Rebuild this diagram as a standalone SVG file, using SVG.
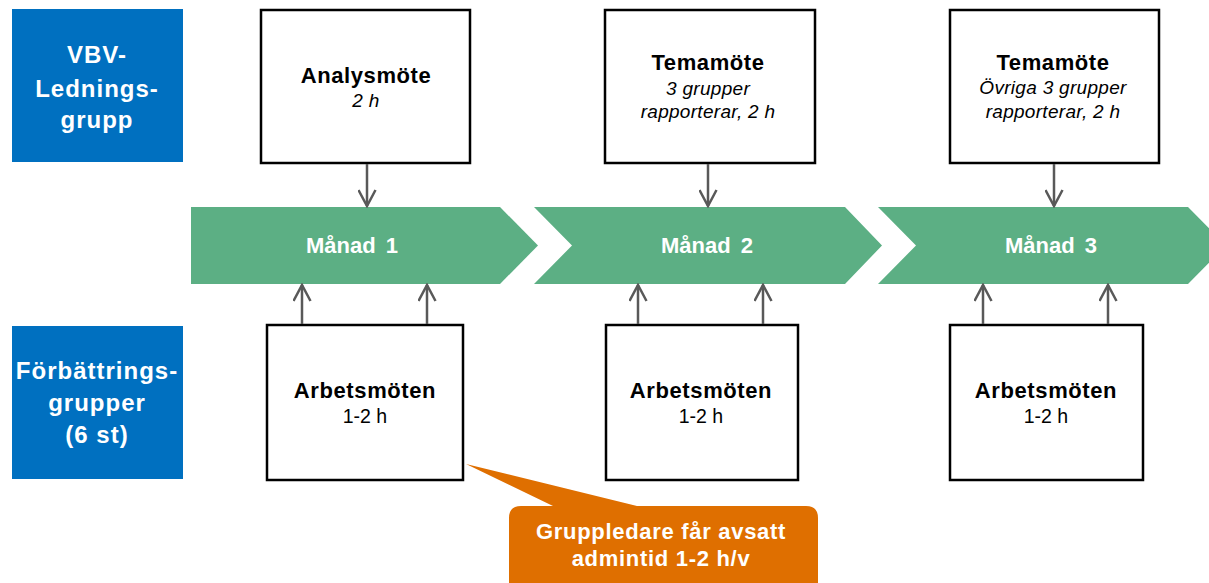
<svg xmlns="http://www.w3.org/2000/svg" width="1209" height="583" viewBox="0 0 1209 583">
<style>
.lbl{fill:#0070C0}
.lt{font-family:"Liberation Sans",Arial,sans-serif;font-weight:bold;font-size:24px;fill:#fff;text-anchor:middle;letter-spacing:1px}
.box{fill:#fff;stroke:#000;stroke-width:2.5}
.t{font-family:"Liberation Sans",Arial,sans-serif;text-anchor:middle;fill:#000}
.b{font-weight:bold;font-size:22px;letter-spacing:0.6px}
.i{font-style:italic;font-size:19px;letter-spacing:0.3px}
.r{font-size:19.5px}
.chev{fill:#5CAF84}
.mt{font-family:"Liberation Sans",Arial,sans-serif;font-weight:bold;font-size:22px;fill:#fff;text-anchor:middle;word-spacing:4px}
.conn{stroke:#595959;stroke-width:2.5;fill:none;marker-end:url(#arr)}
.ct{font-family:"Liberation Sans",Arial,sans-serif;font-weight:bold;font-size:22px;fill:#fff;text-anchor:middle;letter-spacing:0.7px}
</style>
<defs>
<marker id="arr" viewBox="-1 -1 19 19" refX="16" refY="8.5" markerWidth="19" markerHeight="19" markerUnits="userSpaceOnUse" orient="auto">
<path d="M0,0 L16,8.5 L0,17" fill="none" stroke="#595959" stroke-width="2.5"/>
</marker>
</defs>
<rect width="1209" height="583" fill="#fff"/>

<g id="label-vbv">
<rect class="lbl" x="12" y="9" width="171" height="153"/>
<text class="lt" x="97" y="63">VBV-</text>
<text class="lt" x="97" y="97">Lednings-</text>
<text class="lt" x="97" y="128">grupp</text>
</g>
<g id="label-forb">
<rect class="lbl" x="12" y="326" width="171" height="153"/>
<text class="lt" x="97" y="379">Förbättrings-</text>
<text class="lt" x="97" y="411">grupper</text>
<text class="lt" x="97" y="443">(6 st)</text>
</g>

<g id="month1">
<path class="chev" d="M191,207 L500,207 L538,245.5 L500,284 L191,284 Z"/>
<text class="mt" x="352" y="253">Månad 1</text>
</g>
<g id="month2">
<path class="chev" d="M534,207 L845,207 L882,245.5 L845,284 L534,284 L572,245.5 Z"/>
<text class="mt" x="707" y="253">Månad 2</text>
</g>
<g id="month3">
<path class="chev" d="M878,207 L1188,207 L1226,245.5 L1188,284 L878,284 L916,245.5 Z"/>
<text class="mt" x="1051" y="253">Månad 3</text>
</g>

<g id="analysmote">
<rect class="box" x="261" y="10" width="209" height="153"/>
<text class="t b" x="366" y="83">Analysmöte</text>
<text class="t i" x="366" y="107">2 h</text>
</g>
<g id="temamote1">
<rect class="box" x="605" y="10" width="210" height="153"/>
<text class="t b" x="708" y="70">Temamöte</text>
<text class="t i" x="708" y="95">3 grupper</text>
<text class="t i" x="708" y="118">rapporterar, 2 h</text>
</g>
<g id="temamote2">
<rect class="box" x="950" y="10" width="209" height="153"/>
<text class="t b" x="1053" y="70">Temamöte</text>
<text class="t i" x="1053" y="94">Övriga 3 grupper</text>
<text class="t i" x="1053" y="118">rapporterar, 2 h</text>
</g>

<g id="arbete1">
<rect class="box" x="267" y="325" width="196" height="155"/>
<text class="t b" x="365" y="398">Arbetsmöten</text>
<text class="t r" x="365" y="423">1-2 h</text>
</g>
<g id="arbete2">
<rect class="box" x="606" y="325" width="192" height="155"/>
<text class="t b" x="701" y="398">Arbetsmöten</text>
<text class="t r" x="701" y="423">1-2 h</text>
</g>
<g id="arbete3">
<rect class="box" x="950" y="325" width="193" height="155"/>
<text class="t b" x="1046" y="398">Arbetsmöten</text>
<text class="t r" x="1046" y="423">1-2 h</text>
</g>

<g id="connectors">
<line class="conn" x1="367" y1="164" x2="367" y2="206"/>
<line class="conn" x1="708" y1="164" x2="708" y2="206"/>
<line class="conn" x1="1054" y1="164" x2="1054" y2="206"/>
<line class="conn" x1="302" y1="324" x2="302" y2="285"/>
<line class="conn" x1="427" y1="324" x2="427" y2="285"/>
<line class="conn" x1="638" y1="324" x2="638" y2="285"/>
<line class="conn" x1="763" y1="324" x2="763" y2="285"/>
<line class="conn" x1="983" y1="324" x2="983" y2="285"/>
<line class="conn" x1="1108" y1="324" x2="1108" y2="285"/>
</g>

<g id="callout">
<path d="M521,506 L553,506 L466,464 L637,506 L806,506 Q818,506 818,518 L818,600 L509,600 L509,518 Q509,506 521,506 Z" fill="#DF6F00"/>
<text class="ct" x="661" y="539">Gruppledare får avsatt</text>
<text class="ct" x="661" y="566">admintid 1-2 h/v</text>
</g>
</svg>
